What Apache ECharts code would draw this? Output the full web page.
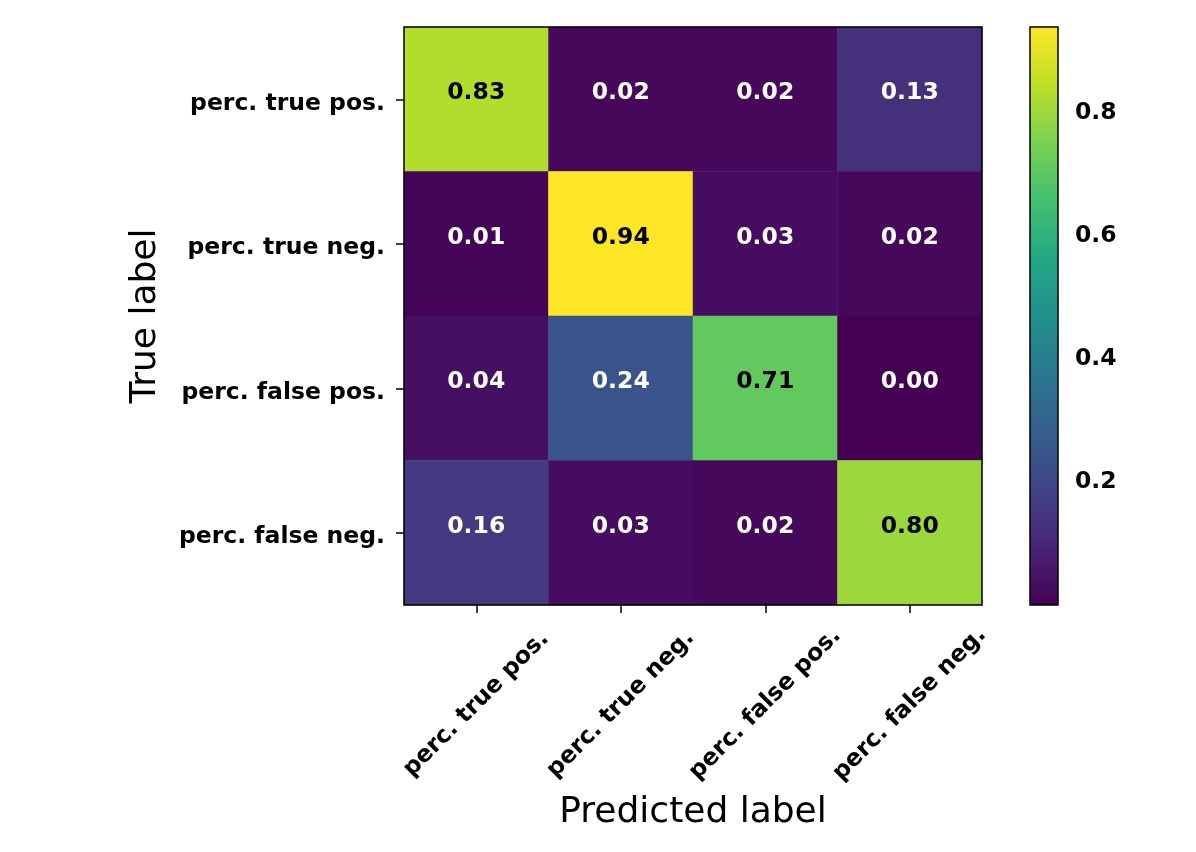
<!DOCTYPE html>
<html>
<head>
<meta charset="utf-8">
<script src="https://cdn.jsdelivr.net/npm/echarts@6/dist/echarts.min.js"></script>
<style>
html,body{margin:0;padding:0;background:#fff;}
#chart{width:1196px;height:852px;}
</style>
</head>
<body>
<div id="chart"></div>
<script>
var predictedLabels = ['perc. true pos.', 'perc. true neg.', 'perc. false pos.', 'perc. false neg.'];
var trueLabels = ['perc. true pos.', 'perc. true neg.', 'perc. false pos.', 'perc. false neg.'];
var rowTruePos = [0.83, 0.02, 0.02, 0.13];
var rowTrueNeg = [0.01, 0.94, 0.03, 0.02];
var rowFalsePos = [0.04, 0.24, 0.71, 0.00];
var rowFalseNeg = [0.16, 0.03, 0.02, 0.80];
var colorbarTicks = [0.2, 0.4, 0.6, 0.8];
var colorMin = 0.0;
var colorMax = 0.94;

var viridis = ['#440154','#482475','#414487','#355f8d','#2a788e','#21918c','#22a884','#44bf70','#7ad151','#bddf26','#fde725'];
var rows = [rowTruePos, rowTrueNeg, rowFalsePos, rowFalseNeg];
var data = [];
rows.forEach(function (r, yi) {
  r.forEach(function (v, xi) { data.push([xi, yi, v]); });
});
var threshold = (colorMin + colorMax) / 2;
var FONT = 'DejaVu Sans';

var chart = echarts.init(document.getElementById('chart'));
chart.setOption({
  backgroundColor: '#ffffff',
  animation: false,
  grid: [
    {left: 404, top: 27, width: 578, height: 578, show: true, z: 10,
     backgroundColor: 'transparent', borderColor: '#000', borderWidth: 1.5},
    {left: 1030, top: 27, width: 28, height: 578, show: true, z: 10,
     backgroundColor: 'transparent', borderColor: '#000', borderWidth: 1.5}
  ],
  xAxis: [
    {type: 'category', gridIndex: 0, data: predictedLabels,
     axisLine: {show: false},
     axisTick: {show: true, alignWithLabel: true, length: 8, lineStyle: {color: '#000', width: 1.5}},
     axisLabel: {rotate: 45, align: 'center', verticalAlign: 'middle', margin: 99, interval: 0,
       fontFamily: FONT, fontWeight: 'bold', fontSize: 23.5, color: '#000'},
     splitLine: {show: false},
     name: 'Predicted label', nameLocation: 'middle', nameGap: 190,
     nameTextStyle: {fontFamily: FONT, fontSize: 36, color: '#000'}},
    {type: 'value', gridIndex: 1, show: false, min: 0, max: 1}
  ],
  yAxis: [
    {type: 'category', gridIndex: 0, data: trueLabels, inverse: true,
     axisLine: {show: false},
     axisTick: {show: true, alignWithLabel: true, length: 8, lineStyle: {color: '#000', width: 1.5}},
     axisLabel: {margin: 19, interval: 0,
       formatter: function (v) { return '{t|' + v + '}'; },
       rich: {t: {padding: [9, 0, 0, 0], fontFamily: FONT, fontWeight: 'bold', fontSize: 23.5, color: '#000'}},
       fontFamily: FONT, fontWeight: 'bold', fontSize: 23.5, color: '#000'},
     splitLine: {show: false},
     name: 'True label', nameLocation: 'middle', nameGap: 240,
     nameTextStyle: {fontFamily: FONT, fontSize: 36, color: '#000'}},
    {type: 'value', gridIndex: 1, position: 'right', min: colorMin, max: colorMax,
     axisLine: {show: false},
     axisTick: {show: true, length: 8, customValues: colorbarTicks, lineStyle: {color: '#000', width: 1.5}},
     axisLabel: {show: true, margin: 17, customValues: colorbarTicks,
       formatter: function (v) { return v.toFixed(1); },
       fontFamily: FONT, fontWeight: 'bold', fontSize: 23.5, color: '#000'},
     splitLine: {show: false}}
  ],
  visualMap: {
    type: 'continuous', min: colorMin, max: colorMax, seriesIndex: 0,
    left: 1030, top: 27, itemWidth: 28, itemHeight: 578, padding: 0,
    calculable: false, hoverLink: false, orient: 'vertical', text: null,
    inRange: {color: viridis}
  },
  series: [{
    type: 'heatmap', xAxisIndex: 0, yAxisIndex: 0, data: data,
    itemStyle: {borderWidth: 0},
    label: {
      show: true,
      offset: [0, -6],
      formatter: function (p) {
        var v = p.value[2];
        return (v > threshold ? '{d|' : '{l|') + v.toFixed(2) + '}';
      },
      rich: {
        d: {color: '#000', fontFamily: FONT, fontWeight: 'bold', fontSize: 23.5},
        l: {color: '#fff', fontFamily: FONT, fontWeight: 'bold', fontSize: 23.5}
      }
    },
    emphasis: {disabled: true}
  }]
});
</script>
</body>
</html>
